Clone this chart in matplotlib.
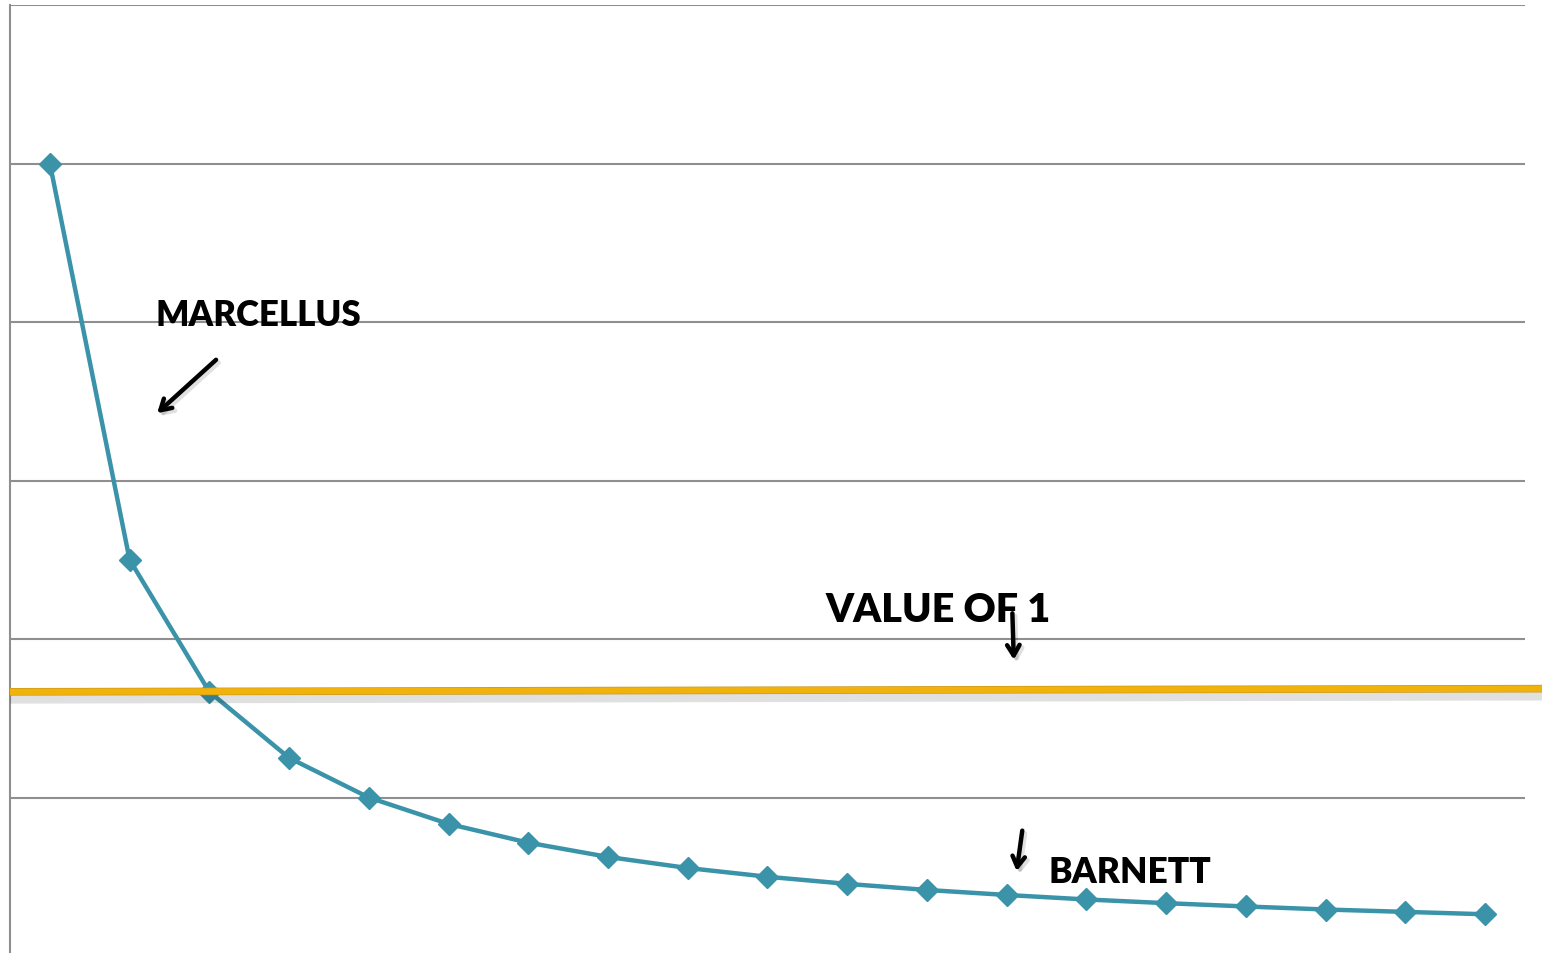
import matplotlib.pyplot as plt
import matplotlib.patheffects as pe
import numpy as np

# 井の番号と指標値
wells = list(range(1, 20))
ratio = [3.0, 1.5, 1.0, 0.75, 0.6, 0.5, 0.429, 0.375, 0.333, 0.3,
         0.273, 0.25, 0.231, 0.214, 0.2, 0.1875, 0.176, 0.167, 0.158]
ref_value = 1.0
grid_ticks = [0, 0.6, 1.2, 1.8, 2.4, 3.0, 3.6]

teal = '#3a93a8'
gold = '#f2b20c'
grid_col = '#8f8f8f'

fig = plt.figure(figsize=(15.42, 9.54), dpi=100)
ax = fig.add_axes([10 / 1542, -3 / 954, 1515 / 1542, 951 / 954])

ax.plot(wells, ratio, color=teal, lw=3.2, marker='D', ms=11,
        mec=teal, mfc=teal, zorder=3)

ax.set_xlim(0.5, 19.5)
ax.set_ylim(0, 3.6)
ax.set_yticks(grid_ticks)
ax.set_xticks([])
ax.yaxis.grid(True, color=grid_col, lw=1.5)
ax.tick_params(left=False, labelleft=False)
for s in ['top', 'right', 'bottom']:
    ax.spines[s].set_visible(False)
ax.spines['left'].set_color(grid_col)
ax.spines['left'].set_linewidth(1.5)

# 値1の基準線（右端まで伸ばす）
ax.plot([0.5, 19.73], [ref_value, ref_value + 0.012], color=gold, lw=4.5,
        solid_capstyle='butt', clip_on=False, zorder=4,
        path_effects=[pe.SimpleLineShadow(offset=(0, -4), alpha=0.12, linewidth=9),
                      pe.Stroke(linewidth=5.5, foreground='#c99a1c'),
                      pe.Normal()])

font = ['Lato', 'DejaVu Sans']
shadow = [pe.SimpleLineShadow(offset=(2, -2), alpha=0.12), pe.Normal()]

ax.text(2.32, 2.39, 'MARCELLUS', fontsize=25, fontweight='heavy',
        family=font, va='baseline')
ax.text(10.73, 1.27, 'VALUE OF 1', fontsize=28.5, fontweight='heavy',
        family=font, va='baseline')
ax.text(13.52, 0.28, 'BARNETT', fontsize=25.5, fontweight='heavy',
        family=font, va='baseline')

arrow_kw = dict(arrowstyle='->,head_length=0.75,head_width=0.45',
                color='black', lw=3.2)
ax.annotate('', xy=(2.32, 2.048), xytext=(3.11, 2.264),
            arrowprops=dict(**arrow_kw, path_effects=shadow))
ax.annotate('', xy=(13.09, 1.111), xytext=(13.07, 1.308),
            arrowprops=dict(**arrow_kw, path_effects=shadow))
ax.annotate('', xy=(13.12, 0.311), xytext=(13.20, 0.485),
            arrowprops=dict(**arrow_kw, path_effects=shadow))

fig.savefig('out.png', dpi=100)
